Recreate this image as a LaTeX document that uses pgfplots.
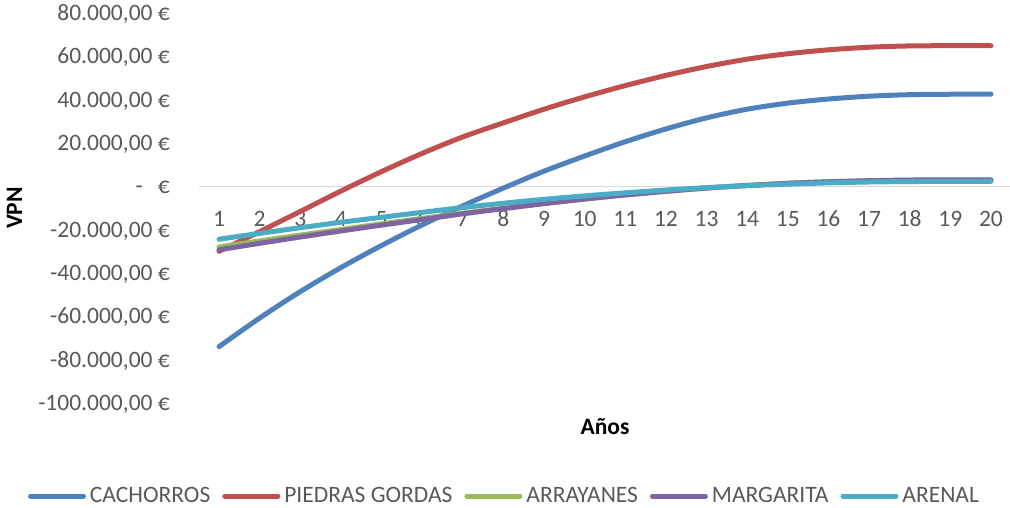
\documentclass[border=0pt]{standalone}
\usepackage{fontspec}
\setmainfont{Carlito}
\usepackage{pgfplots}
\pgfplotsset{compat=1.18}
\usepackage{pgfplotstable}

\definecolor{cachorros}{HTML}{4F81BD}
\definecolor{piedras}{HTML}{C0504D}
\definecolor{arrayanes}{HTML}{9BBB59}
\definecolor{margarita}{HTML}{8064A2}
\definecolor{arenal}{HTML}{4BACC6}
\definecolor{labelgray}{HTML}{595959}
\definecolor{zeroline}{HTML}{D9D9D9}

% Valor presente neto acumulado por año (EUR)
\pgfplotstableread{
anio cachorros piedras arrayanes margarita arenal
1  -74000 -30000 -28000 -29300 -24400
2  -60800 -20900 -25200 -26300 -21700
3  -48600 -11600 -22500 -23400 -19100
4  -37500  -2200 -19900 -20600 -16600
5  -27300   6800 -17300 -17900 -14300
6  -17800  15200 -14800 -15300 -12000
7   -9000  22800 -12400 -12700  -9800
8    -800  29300 -10100 -10300  -7800
9    7000  35600  -7900  -8000  -6000
10  14000  41300  -5800  -5900  -4400
11  20600  46500  -3900  -4000  -3000
12  26500  51200  -2300  -2300  -1700
13  31600  55300   -800   -800   -600
14  35600  58700    400    400    300
15  38400  61200   1400   1400   1000
16  40300  63000   2100   2100   1600
17  41600  64200   2500   2600   2000
18  42300  64800   2800   2900   2200
19  42500  64900   2900   3000   2300
20  42500  64900   2900   3000   2300
}\vpn

\newcommand{\chartfont}{\fontsize{23.5bp}{28bp}\selectfont}

\begin{document}
\begin{tikzpicture}
\useasboundingbox (0,0) rectangle (1010bp,508bp);
\begin{axis}[
  at={(198.7bp,105bp)}, anchor=south west,
  scale only axis, width=812.6bp, height=390bp,
  xmin=0.5, xmax=20.5, ymin=-100000, ymax=80000,
  axis line style={draw=none},
  tick style={draw=none},
  major tick length=0pt,
  scaled y ticks=false,
  xtick={1,...,20},
  xticklabels={1,2,3,4,5,6,7,8,9,10,11,12,13,14,15,16,17,18,19,20},
  xticklabel style={font=\chartfont, text=labelgray, anchor=base, inner sep=0pt, yshift=176.3bp},
  ytick={-100000,-80000,-60000,-40000,-20000,0,20000,40000,60000,80000},
  yticklabels={{-100.000,00 €},{-80.000,00 €},{-60.000,00 €},{-40.000,00 €},{-20.000,00 €},{-\hspace{15bp}€},{20.000,00 €},{40.000,00 €},{60.000,00 €},{80.000,00 €}},
  yticklabel style={font=\chartfont, text=labelgray, anchor=base east, inner sep=0pt, xshift=-28.7bp, yshift=-7.5bp},
  xlabel={\textbf{Años}},
  xlabel style={font=\chartfont, at={(axis description cs:0.5,0)}, anchor=base, inner sep=0pt, yshift=-31.3bp},
  ylabel={\textbf{VPN}},
  ylabel style={font=\chartfont, at={(axis description cs:-0.2267,0.5)}, anchor=center, inner sep=0pt},
  every axis plot/.append style={line width=5bp, line cap=round, line join=round, mark=none, smooth},
  legend image code/.code={\draw[#1] (0bp,0bp) -- (53bp,0bp);},
  legend columns=-1,
  legend style={at={(axis description cs:-0.2101,-0.2385)}, anchor=west,
    draw=none, fill=none, inner sep=0pt, outer sep=0pt,
    font=\chartfont, text=labelgray,
    nodes={inner sep=0pt},
    /tikz/every odd column/.append style={column sep=4bp},
    /tikz/every even column/.append style={column sep=12bp}},
]
\addplot[zeroline, line width=1bp, line cap=butt, forget plot, sharp plot] coordinates {(0.5,0) (20.5,0)};
\addplot[cachorros] table[x=anio, y=cachorros] {\vpn};
\addplot[piedras] table[x=anio, y=piedras] {\vpn};
\addplot[arrayanes] table[x=anio, y=arrayanes] {\vpn};
\addplot[margarita] table[x=anio, y=margarita] {\vpn};
\addplot[arenal] table[x=anio, y=arenal] {\vpn};
\legend{CACHORROS, PIEDRAS GORDAS, ARRAYANES, MARGARITA, ARENAL}
\end{axis}
\end{tikzpicture}
\end{document}
